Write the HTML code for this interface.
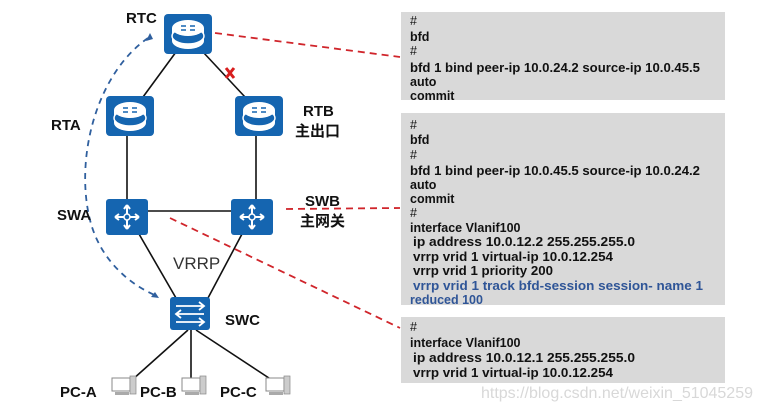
<!DOCTYPE html>
<html><head><meta charset="utf-8"><style>
body{margin:0;background:#fff;width:761px;height:410px;overflow:hidden}
svg{display:block}
.c{font-family:"Liberation Sans",sans-serif;font-weight:bold;font-size:12.5px;fill:#111}
.b{fill:#2f5597}
.l{font-family:"Liberation Sans","Noto Sans CJK SC",sans-serif;font-weight:bold;font-size:15px;fill:#111}
</style></head><body>
<svg width="761" height="410" viewBox="0 0 761 410">
<defs>
<g id="rt"><rect x="0" y="0" width="48" height="40" rx="4" fill="#1565b0"/>
<ellipse cx="24" cy="27" rx="16" ry="8" fill="#fff"/><rect x="8" y="14" width="32" height="13" fill="#fff"/>
<ellipse cx="24" cy="22" rx="16" ry="8" fill="#1565b0" stroke="#fff" stroke-width="1.5"/>
<ellipse cx="24" cy="14" rx="16" ry="8" fill="#fff"/>
<path d="M17 12h5M17 16h5M26 12h5M26 16h5" stroke="#1565b0" stroke-width="1.5"/></g>
<g id="sw"><rect x="0" y="0" width="42" height="36" rx="3" fill="#1565b0"/>
<path d="M21 6v24M9 18h24M21 6l-3 4M21 6l3 4M21 30l-3-4M21 30l3-4M9 18l4-3M9 18l4 3M33 18l-4-3M33 18l-4 3" stroke="#fff" stroke-width="2" fill="none"/>
<circle cx="21" cy="18" r="3" fill="#1565b0" stroke="#fff" stroke-width="1.5"/></g>
<g id="pc"><rect x="0" y="0" width="18" height="13" fill="#fff" stroke="#888"/><rect x="18" y="-2" width="6" height="18" fill="#ccc" stroke="#888" stroke-width=".7"/><rect x="3" y="14" width="14" height="3" fill="#aaa"/></g>
</defs>
<g stroke="#111" stroke-width="1.6">
<line x1="176" y1="52" x2="143" y2="97"/><line x1="203" y1="52" x2="245" y2="97"/>
<line x1="127" y1="136" x2="127" y2="200"/><line x1="256" y1="136" x2="256" y2="200"/>
<line x1="148" y1="211" x2="232" y2="211"/>
<line x1="139" y1="234" x2="176" y2="298"/><line x1="242" y1="234" x2="208" y2="298"/>
<line x1="188" y1="330" x2="132" y2="380"/><line x1="191" y1="330" x2="191" y2="378"/><line x1="196" y1="330" x2="272" y2="380"/>
</g>
<path d="M226 68l8 10M234 68l-8 10" stroke="#d81e1e" stroke-width="3"/>
<g stroke="#d0252b" stroke-width="1.8" stroke-dasharray="7,5" fill="none">
<line x1="215" y1="33" x2="400" y2="57"/>
<line x1="286" y1="209" x2="400" y2="208"/>
<line x1="170" y1="218" x2="400" y2="328"/>
</g>
<path d="M148 38 C95 75 75 160 90 220 C100 260 130 285 157 296" stroke="#2f5f9e" stroke-width="1.8" stroke-dasharray="6,5" fill="none"/>
<path d="M150 33l-4 8 7-2z" fill="#2f5f9e"/><path d="M159 298l-8-1 4-5z" fill="#2f5f9e"/>
<use href="#rt" x="164" y="14"/><use href="#rt" x="106" y="96"/><use href="#rt" x="235" y="96"/>
<use href="#sw" x="106" y="199"/><use href="#sw" x="231" y="199"/>
<g><rect x="170" y="297" width="40" height="33" rx="3" fill="#1565b0"/>
<path d="M176 306h28M199 302l5 4-5 4M204 314h-28M181 310l-5 4 5 4M176 322h28M199 318l5 4-5 4" stroke="#fff" stroke-width="1.8" fill="none"/></g>
<use href="#pc" x="112" y="378"/><use href="#pc" x="182" y="378"/><use href="#pc" x="266" y="378"/>
<text class="l" x="126" y="23">RTC</text>
<text class="l" x="51" y="130">RTA</text>
<text class="l" x="303" y="116">RTB</text><text class="l" x="295" y="136">主出口</text>
<text class="l" x="57" y="220">SWA</text>
<text class="l" x="305" y="206">SWB</text><text class="l" x="300" y="226">主网关</text>
<text x="173" y="269" font-family="Liberation Sans" font-size="17" fill="#333">VRRP</text>
<text class="l" x="225" y="325">SWC</text>
<text class="l" x="60" y="397">PC-A</text><text class="l" x="140" y="397">PC-B</text><text class="l" x="220" y="397">PC-C</text>
<rect x="401" y="12" width="324" height="88" fill="#d9d9d9"/>
<rect x="401" y="113" width="324" height="192" fill="#d9d9d9"/>
<rect x="401" y="317" width="324" height="66" fill="#d9d9d9"/>
<g class="c">
<text x="410" y="25" font-weight="normal">#</text><text x="410" y="41">bfd</text><text x="410" y="55" font-weight="normal">#</text>
<text x="410" y="72" textLength="290" lengthAdjust="spacingAndGlyphs">bfd 1 bind peer-ip 10.0.24.2 source-ip 10.0.45.5</text>
<text x="410" y="86">auto</text><text x="410" y="100">commit</text>
<text x="410" y="129" font-weight="normal">#</text><text x="410" y="144">bfd</text><text x="410" y="159" font-weight="normal">#</text>
<text x="410" y="175" textLength="290" lengthAdjust="spacingAndGlyphs">bfd 1 bind peer-ip 10.0.45.5 source-ip 10.0.24.2</text>
<text x="410" y="189">auto</text><text x="410" y="203">commit</text>
<text x="410" y="217" font-weight="normal">#</text>
<text x="410" y="232">interface Vlanif100</text>
<text x="413" y="246" textLength="222" lengthAdjust="spacingAndGlyphs">ip address 10.0.12.2 255.255.255.0</text>
<text x="413" y="261" textLength="200" lengthAdjust="spacingAndGlyphs">vrrp vrid 1 virtual-ip 10.0.12.254</text>
<text x="413" y="275" textLength="140" lengthAdjust="spacingAndGlyphs">vrrp vrid 1 priority 200</text>
<text x="413" y="290" class="b" textLength="290" lengthAdjust="spacingAndGlyphs">vrrp vrid 1 track bfd-session session-    name 1</text>
<text x="410" y="304" class="b">reduced 100</text>
<text x="410" y="331" font-weight="normal">#</text>
<text x="410" y="347">interface Vlanif100</text>
<text x="413" y="362" textLength="222" lengthAdjust="spacingAndGlyphs">ip address 10.0.12.1 255.255.255.0</text>
<text x="413" y="377" textLength="200" lengthAdjust="spacingAndGlyphs">vrrp vrid 1 virtual-ip 10.0.12.254</text>
</g>
<text x="481" y="398" font-family="Liberation Sans" font-size="16" fill="#d8d8d8" textLength="272">https://blog.csdn.net/weixin_51045259</text>
</svg>
</body></html>
